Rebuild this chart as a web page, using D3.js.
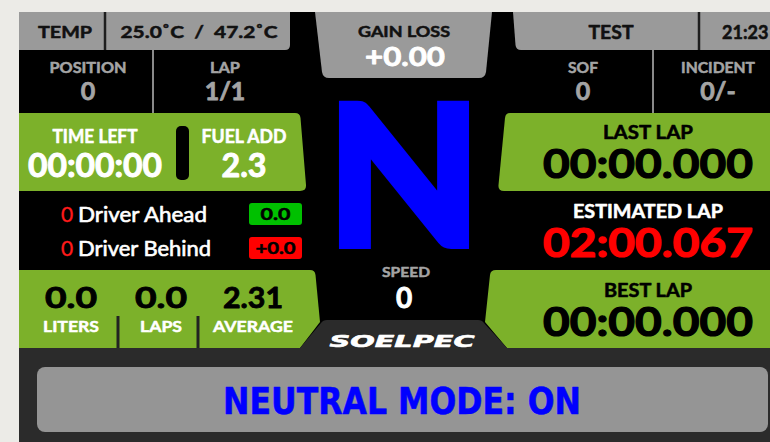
<!DOCTYPE html>
<html lang="en">
<head>
<meta charset="UTF-8">
<title>Race Dash</title>
<style>
  body { margin: 0; background: #ecebe7; }
  svg { display: block; }
</style>
</head>
<body>
<svg id="dash" width="770" height="442"></svg>
<script src="https://d3js.org/d3.v7.min.js"></script>
<script>
const tempTab = ["TEMP", "25.0˚C  /  47.2˚C"];
const sessionTab = ["TEST", "21:23"];
const infoLeft = [{ label: "POSITION", value: "0" }, { label: "LAP", value: "1/1" }];
const infoRight = [{ label: "SOF", value: "0" }, { label: "INCIDENT", value: "0/-" }];
const timeFuel = [{ label: "TIME LEFT", value: "00:00:00" }, { label: "FUEL ADD", value: "2.3" }];
const drivers = [
  { pos: "0", name: "Driver Ahead", gap: "0.0" },
  { pos: "0", name: "Driver Behind", gap: "+0.0" }
];
const fuelStats = [
  { label: "LITERS", value: "0.0" },
  { label: "LAPS", value: "0.0" },
  { label: "AVERAGE", value: "2.31" }
];
const lapTimes = [
  { label: "LAST LAP", value: "00:00.000" },
  { label: "ESTIMATED LAP", value: "02:00.067" },
  { label: "BEST LAP", value: "00:00.000" }
];
const gainLoss = { label: "GAIN LOSS", value: "+0.00" };
const gear = "N";
const speed = { label: "SPEED", value: "0" };
const brand = "SOELPEC";
const modeText = "NEUTRAL MODE: ON";

const GREEN = "#7cb12a", GREY = "#9a9a9a", DARK = "#2b2b2b", LABEL = "#a4a4a4";

const svg = d3.select("#dash");

// base panels
svg.append("rect").attr("x", 19).attr("y", 12).attr("width", 751).attr("height", 336).attr("fill", "#000");
svg.append("rect").attr("x", 19).attr("y", 348).attr("width", 751).attr("height", 94).attr("fill", DARK);

const shapes = [
  { d: "M19,12 H290 V45 Q290,50 285,50 H19 Z", fill: GREY },                         // temp tab
  { d: "M513,12 H770 V50 H521 Q516,50 515.5,45 Z", fill: GREY },                    // session tab
  { d: "M315,12 H492 L486,72 Q485,78 479,78 H329 Q323,78 322,72 Z", fill: GREY },  // gain loss
  { d: "M19,113 H295 Q300,113 300.5,118 L306,185 Q306.5,191 300,191 H19 Z", fill: GREEN },
  { d: "M19,270 H310 Q315,270 315.5,275 L320,322 L300,348 H19 Z", fill: GREEN },
  { d: "M510,113 H770 V191 H504 Q498,191 498.5,185 L505,118 Q505.5,113 510,113 Z", fill: GREEN },
  { d: "M496,270 H770 V348 H507 L485,322 L490,275 Q490.5,270 496,270 Z", fill: GREEN },
  { d: "M300,348 L321,323 Q323,320 327,320 H478 Q482,320 484,323 L507,348 Z", fill: DARK }
];
svg.append("g").selectAll("path").data(shapes).join("path")
  .attr("d", d => d.d).attr("fill", d => d.fill);

// dividers
const dividers = [
  { x: 105, y1: 12, y2: 50, c: "#1e1e1e", w: 2.5 },
  { x: 699, y1: 12, y2: 50, c: "#1e1e1e", w: 2.5 },
  { x: 153, y1: 50, y2: 113, c: "#8a8a8a", w: 2 },
  { x: 653, y1: 50, y2: 113, c: "#8a8a8a", w: 2 },
  { x: 118, y1: 316, y2: 348, c: "#222", w: 3 },
  { x: 198, y1: 316, y2: 348, c: "#222", w: 3 }
];
svg.append("g").selectAll("line").data(dividers).join("line")
  .attr("x1", d => d.x).attr("x2", d => d.x).attr("y1", d => d.y1).attr("y2", d => d.y2)
  .attr("stroke", d => d.c).attr("stroke-width", d => d.w);

// black pill between time and fuel
svg.append("rect").attr("x", 176).attr("y", 126).attr("width", 13).attr("height", 54)
  .attr("rx", 5).attr("fill", "#000");

const g = svg.append("g");

// text helper: w = ink width to fit, measured from the reference; a thin
// stroke in the fill colour thickens Lato Bold toward the dash's heavy face
function txt(s, x, y, size, fill, w, anchor) {
  const t = g.append("text").attr("x", x).attr("y", y).attr("font-size", size)
    .attr("fill", fill).attr("text-anchor", anchor || "middle")
    .attr("stroke", fill).attr("stroke-width", Math.max(0.5, size * 0.03))
    .attr("stroke-linejoin", "round")
    .style("font-family", "Lato, sans-serif").style("font-weight", 700)
    .attr("xml:space", "preserve").text(s);
  if (w) t.attr("textLength", w).attr("lengthAdjust", "spacingAndGlyphs");
  return t;
}

// top tabs
txt(tempTab[0], 65, 38, 17, "#111", 54);
txt(tempTab[1], 199, 38, 17, "#111", 157);
txt(sessionTab[0], 611, 39, 18, "#111", 45);
txt(sessionTab[1], 722, 39, 18, "#111", null, "start");

// info rows
const infoX = d3.scaleOrdinal().domain(["POSITION", "LAP", "SOF", "INCIDENT"]).range([88, 225, 583, 718]);
const infoW = d3.scaleOrdinal().domain(["POSITION", "LAP", "SOF", "INCIDENT"]).range([77, 30, 30, 74]);
infoLeft.concat(infoRight).forEach(d => {
  txt(d.label, infoX(d.label), 73, 15, LABEL, infoW(d.label));
  txt(d.value, infoX(d.label), 100, 25, LABEL);
});

// time left / fuel add
const tfX = d3.scalePoint().domain(timeFuel.map(d => d.label)).range([95, 244]);
timeFuel.forEach(d => {
  txt(d.label, tfX(d.label), 143, 18, "#fff", 85);
  txt(d.value, tfX(d.label), 177, 33, "#fff", d.value.length > 4 ? 134 : 45);
});

// drivers ahead / behind
const dY = d3.scalePoint().domain(drivers.map(d => d.name)).range([222, 256]);
const badge = d3.scaleOrdinal().domain(drivers.map(d => d.name)).range(["#00c000", "#ff0000"]);
drivers.forEach(d => {
  const y = dY(d.name);
  txt(d.pos, 61, y, 21, "#ff1a1a", null, "start").style("font-weight", 400).attr("stroke-width", 0.3);
  txt(d.name, 78, y, 21, "#fff", d.name.length > 12 ? 133 : 129, "start").style("font-weight", 400);
  g.append("rect").attr("x", 249).attr("y", y - 19).attr("width", 53).attr("height", 22)
    .attr("rx", 3).attr("fill", badge(d.name));
  txt(d.gap, 275.5, y - 2.5, 17, "#000", d.gap.length > 3 ? 40 : 30);
});

// fuel stats
const fX = d3.scaleOrdinal().domain(fuelStats.map(d => d.label)).range([71, 161, 253]);
const fW = d3.scaleOrdinal().domain(fuelStats.map(d => d.label)).range([56, 42, 80]);
fuelStats.forEach(d => {
  txt(d.value, fX(d.label), 308, 29, "#000", d.value.length > 3 ? 60 : 52);
  txt(d.label, fX(d.label), 332, 16, "#fff", fW(d.label));
});

// gain loss
txt(gainLoss.label, 404, 37, 15, "#111", 92);
txt(gainLoss.value, 405, 66, 27, "#fff", 80);

// gear
txt(gear, 404, 245, 194, "#0000ff", 154).attr("stroke-width", 8)
  .attr("stroke-linejoin", "miter").attr("stroke-miterlimit", 10);

// speed
txt(speed.label, 406, 277, 14, LABEL, 48);
txt(speed.value, 404, 308, 28, "#fff");

// brand
txt(brand, 402, 347, 16, "#fff", 145).attr("stroke-width", 0.6)
  .style("font-family", "'DejaVu Sans', sans-serif").style("font-style", "italic");

// lap times
const lapY = d3.scaleOrdinal().domain(lapTimes.map(d => d.label)).range([139, 218, 297]);
const lapC = d3.scaleOrdinal().domain(lapTimes.map(d => d.label)).range(["#000", "#ff0000", "#000"]);
const lapW = d3.scaleOrdinal().domain(lapTimes.map(d => d.label)).range([90, 150, 88]);
lapTimes.forEach(d => {
  const y = lapY(d.label);
  txt(d.label, 648, y, 18, d.label === "ESTIMATED LAP" ? "#fff" : "#000", lapW(d.label));
  txt(d.value, 648, y + 39, 40, lapC(d.label), 210);
});

// neutral mode bar
svg.append("rect").attr("x", 37).attr("y", 367).attr("width", 731).attr("height", 65)
  .attr("rx", 8).attr("fill", "#959595");
g.raise();
txt(modeText, 402, 414, 37, "#0000ff", 358).attr("stroke-width", 0.5)
  .style("font-family", "'DejaVu Sans Condensed', 'DejaVu Sans', sans-serif");
</script>
</body>
</html>
